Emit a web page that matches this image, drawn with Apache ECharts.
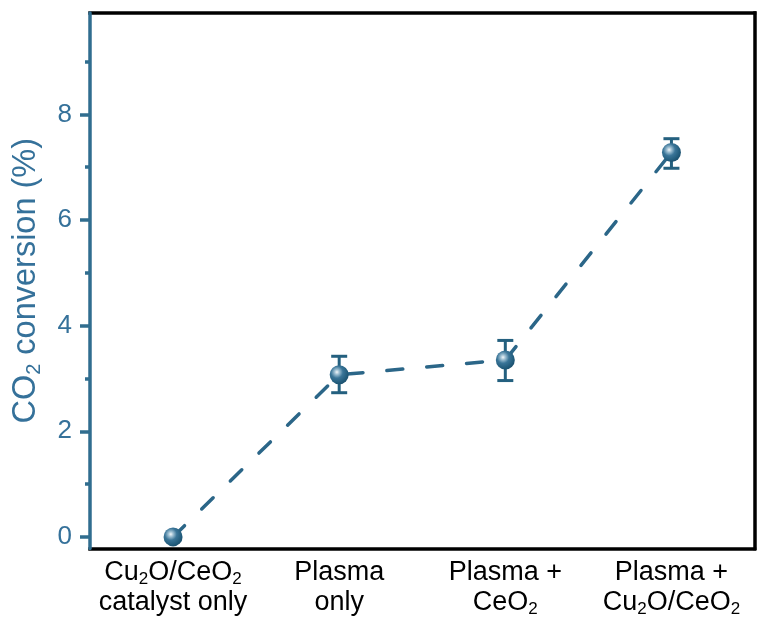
<!DOCTYPE html>
<html>
<head>
<meta charset="utf-8">
<script src="https://cdn.jsdelivr.net/npm/echarts@6/dist/echarts.min.js"></script>
<style>
  html, body { margin: 0; padding: 0; background: #fff; }
  #chart { width: 762px; height: 629px; }
</style>
</head>
<body>
<div id="chart"></div>
<script>
// Sample conditions (x axis), rich-text tags mark subscripts
const categories = [
  'Cu{s|2}O/CeO{s|2}\ncatalyst only',
  'Plasma\nonly',
  'Plasma +\nCeO{s|2}',
  'Plasma +\nCu{s|2}O/CeO{s|2}'
];
// Mean CO2 conversion (%) for each condition
const conversion = [0, 3.07, 3.35, 7.28];
// Error bar bounds (%), null where no bar is drawn
const errLow  = [null, 2.73, 2.96, 6.98];
const errHigh = [null, 3.42, 3.72, 7.54];
// Y axis tick values
const majorTicks = [0, 2, 4, 6, 8];
const minorTicks = [1, 3, 5, 7, 9];

const Y_MIN = -0.22, Y_MAX = 9.92;
const TEAL = '#306d8f';
const TEXT_TEAL = '#35719a';
const MARK = '#24607f';

const errData = [];
categories.forEach((c, i) => {
  if (errLow[i] !== null) errData.push([i, errLow[i], errHigh[i]]);
});

const chart = echarts.init(document.getElementById('chart'), null, { renderer: 'canvas' });

const sphere = {
  type: 'radial', x: 0.38, y: 0.36, r: 0.7,
  colorStops: [
    { offset: 0, color: '#f2f7fa' },
    { offset: 0.18, color: '#9fc0d3' },
    { offset: 0.45, color: '#3a7598' },
    { offset: 0.8, color: '#225c7c' },
    { offset: 1, color: '#1a4d6a' }
  ]
};

chart.setOption({
  animation: false,
  backgroundColor: '#fff',
  grid: { left: 89.5, right: 7.5, top: 13, bottom: 80.5, containLabel: false },
  xAxis: [
    {
      type: 'category', position: 'bottom', data: categories, boundaryGap: true,
      axisLine: { onZero: false, lineStyle: { color: '#000', width: 3.5, cap: 'square' } },
      axisTick: { show: false },
      splitLine: { show: false },
      axisLabel: {
        margin: 9.5, color: '#000', interval: 0,
        fontFamily: 'Liberation Sans', fontSize: 27, lineHeight: 30,
        rich: {
          s: { fontFamily: 'Liberation Sans', fontSize: 17, lineHeight: 8, verticalAlign: 'bottom', color: '#000' }
        }
      }
    },
    {
      type: 'category', position: 'top', data: categories, boundaryGap: true,
      axisLine: { onZero: false, lineStyle: { color: '#000', width: 3.5, cap: 'square' } },
      axisTick: { show: false }, axisLabel: { show: false }, splitLine: { show: false }
    }
  ],
  yAxis: [
    {
      type: 'value', position: 'left', min: Y_MIN, max: Y_MAX, z: 5,
      axisLine: { show: true, onZero: false, lineStyle: { color: TEAL, width: 3.5 } },
      axisTick: { show: true, customValues: majorTicks, length: 10, lineStyle: { color: TEAL, width: 3.5 } },
      axisLabel: {
        customValues: majorTicks, margin: 18, color: TEXT_TEAL,
        fontFamily: 'Liberation Sans', fontSize: 26
      },
      splitLine: { show: false },
      name: 'CO{s|2} conversion (%)',
      nameLocation: 'middle', nameGap: 46,
      nameTextStyle: {
        color: TEXT_TEAL, fontFamily: 'Liberation Sans', fontSize: 32.5, lineHeight: 36,
        rich: {
          s: { color: TEXT_TEAL, fontFamily: 'Liberation Sans', fontSize: 20, lineHeight: 10, verticalAlign: 'bottom' }
        }
      }
    },
    {
      type: 'value', position: 'left', min: Y_MIN, max: Y_MAX, z: 5,
      axisLine: { show: false, onZero: false },
      axisTick: { show: true, customValues: minorTicks, length: 5, lineStyle: { color: TEAL, width: 3.5 } },
      axisLabel: { show: false },
      splitLine: { show: false }
    },
    {
      type: 'value', position: 'right', min: Y_MIN, max: Y_MAX,
      axisLine: { show: true, onZero: false, lineStyle: { color: '#000', width: 3.5, cap: 'square' } },
      axisTick: { show: false }, axisLabel: { show: false }, splitLine: { show: false }
    }
  ],
  series: [
    {
      type: 'custom',
      xAxisIndex: 0, yAxisIndex: 0,
      data: errData,
      encode: { x: 0, y: [1, 2] },
      z: 3,
      renderItem: function (params, api) {
        const i = api.value(0);
        const lo = api.coord([i, api.value(1)]);
        const hi = api.coord([i, api.value(2)]);
        const hw = 8;
        const st = { stroke: MARK, lineWidth: 3 };
        return {
          type: 'group',
          children: [
            { type: 'line', shape: { x1: lo[0], y1: lo[1], x2: hi[0], y2: hi[1] }, style: st },
            { type: 'line', shape: { x1: lo[0] - hw, y1: lo[1], x2: lo[0] + hw, y2: lo[1] }, style: st },
            { type: 'line', shape: { x1: hi[0] - hw, y1: hi[1], x2: hi[0] + hw, y2: hi[1] }, style: st }
          ]
        };
      }
    },
    {
      type: 'line',
      xAxisIndex: 0, yAxisIndex: 0,
      data: conversion,
      z: 4,
      symbol: 'circle', symbolSize: 19, showAllSymbol: true,
      lineStyle: { color: '#2b6688', width: 3.5, type: [16, 24], cap: 'round' },
      itemStyle: { color: sphere, borderWidth: 0 }
    }
  ]
});
</script>
</body>
</html>
